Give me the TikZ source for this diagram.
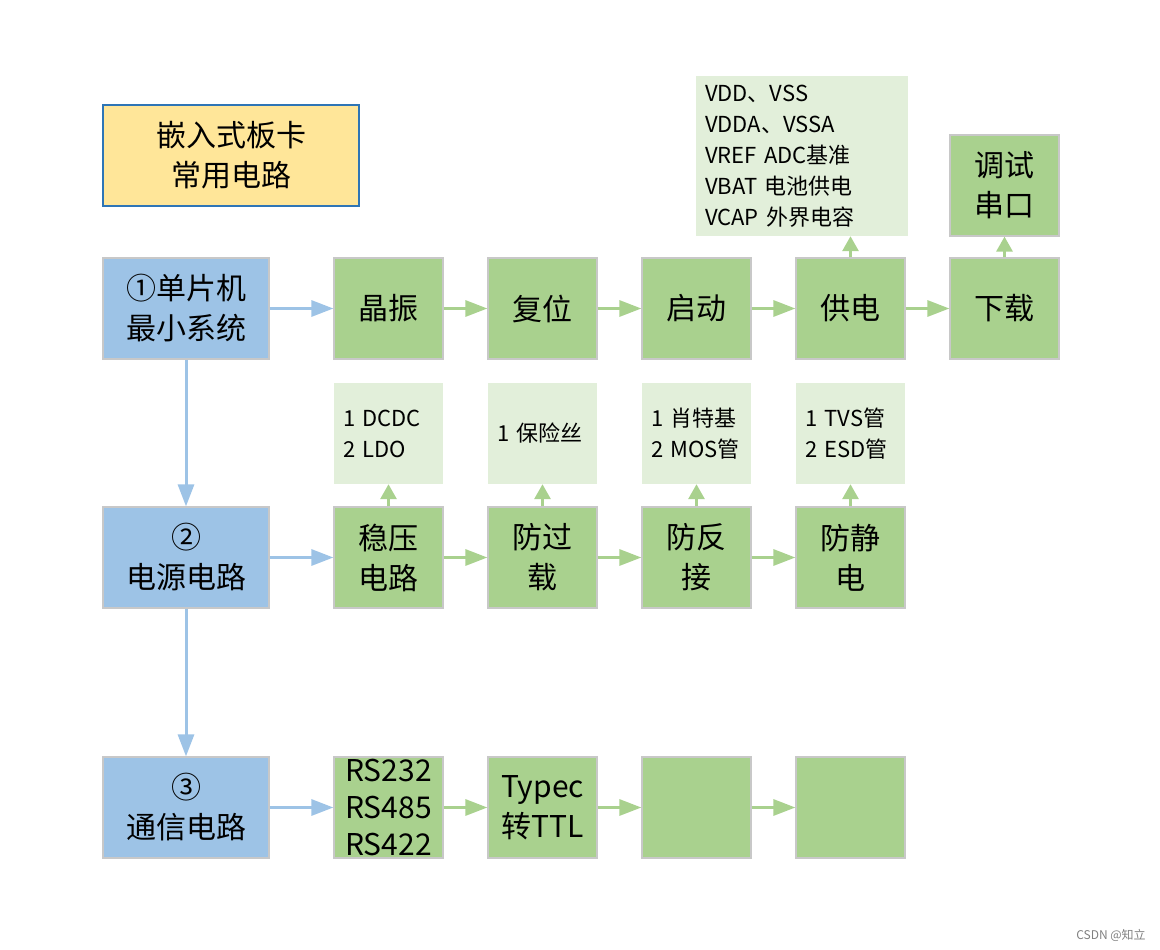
\documentclass[tikz,border=0pt]{standalone}
\usepackage{fontspec}
\setmainfont{Noto Sans CJK SC}
\usetikzlibrary{positioning, arrows.meta}
\definecolor{boxblue}{HTML}{9DC3E6}
\definecolor{boxgreen}{HTML}{A9D18E}
\definecolor{notegreen}{HTML}{E2EFDA}
\definecolor{titleyellow}{HTML}{FFE699}
\definecolor{titleline}{HTML}{2E75B6}
\definecolor{boxline}{HTML}{C8C8C8}
\newcommand{\bigfont}{\fontsize{30}{40}\selectfont}
\newcommand{\notefont}{\fontsize{22}{31}\selectfont}

\begin{document}
\begin{tikzpicture}[
      x = 1pt, y = -1pt,
      on grid,
      node distance = 154pt,
      font = \bigfont,
      block/.style = {draw = boxline, line width = 1.2pt, inner sep = 0pt,
        minimum width = 109pt, minimum height = 101pt, align = center},
      mainbox/.style = {block, fill = boxblue, minimum width = 166pt},
      stepbox/.style = {block, fill = boxgreen},
      notebox/.style = {fill = notegreen, inner xsep = 9pt, inner ysep = 0pt,
        text width = 91pt, minimum height = 101pt, align = left, font = \notefont},
      blueline/.style = {draw = boxblue, line width = 3pt,
        -{Triangle[length = 22pt, width = 16pt]}},
      greenline/.style = {draw = boxgreen, line width = 3pt,
        -{Triangle[length = 22pt, width = 16pt]}},
      upline/.style = {draw = boxgreen, line width = 3pt,
        -{Triangle[length = 15pt, width = 16pt]}}]

      \useasboundingbox (0,0) rectangle (1160,950);

      % title
      \node [block, fill = titleyellow, draw = titleline, minimum width = 256pt]
        (title) at (231,155.5) {嵌入式板卡\\常用电路};

      % left column
      \node [mainbox] (mcu) at (186,308.5) {①单片机\\最小系统};
      \node [mainbox] (power) at (186,557.5) {②\\电源电路};
      \node [mainbox] (comm) at (186,807.5) {③\\通信电路};

      % minimum system
      \node [stepbox] (xtal) at (388.5,308.5) {晶振};
      \node [stepbox, right = of xtal] (reset) {复位};
      \node [stepbox, right = of reset] (boot) {启动};
      \node [stepbox, right = of boot] (supply) {供电};
      \node [stepbox, right = of supply] (download) {下载};
      \node [stepbox, above = 123pt of download] (debug) {调试\\串口};
      \node [notebox, text width = 194pt, minimum height = 160pt]
        (supplynote) at (802,156) {VDD、VSS\\VDDA、VSSA\\VREF ADC基准\\VBAT 电池供电\\VCAP 外界电容};

      % power circuit
      \node [stepbox] (reg) at (388.5,557.5) {稳压\\电路};
      \node [stepbox, right = of reg] (fuse) {防过\\载};
      \node [stepbox, right = of fuse] (reverse) {防反\\接};
      \node [stepbox, right = of reverse] (esd) {防静\\电};
      \node [notebox, above = 124pt of reg] (regnote) {1 DCDC\\2 LDO};
      \node [notebox, above = 124pt of fuse] (fusenote) {1 保险丝};
      \node [notebox, above = 124pt of reverse] (reversenote) {1 肖特基\\2 MOS管};
      \node [notebox, above = 124pt of esd] (esdnote) {1 TVS管\\2 ESD管};

      % communication circuit
      \node [stepbox, font = \fontsize{30}{37}\selectfont] (rs) at (388.5,807.5) {RS232\\RS485\\RS422};
      \node [stepbox, right = of rs] (typec) {Typec\\转TTL};
      \node [stepbox, right = of typec] (commc) {};
      \node [stepbox, right = of commc] (commd) {};

      % connectors
      \draw [blueline] (mcu) -- (xtal);
      \draw [blueline] (power) -- (reg);
      \draw [blueline] (comm) -- (rs);
      \draw [blueline] (mcu) -- (power);
      \draw [blueline] (power) -- (comm);
      \draw [greenline] (xtal) -- (reset);
      \draw [greenline] (reset) -- (boot);
      \draw [greenline] (boot) -- (supply);
      \draw [greenline] (supply) -- (download);
      \draw [greenline] (reg) -- (fuse);
      \draw [greenline] (fuse) -- (reverse);
      \draw [greenline] (reverse) -- (esd);
      \draw [greenline] (rs) -- (typec);
      \draw [greenline] (typec) -- (commc);
      \draw [greenline] (commc) -- (commd);
      \draw [upline] (download) -- (debug);
      \draw [upline] (supply.north) -- (supply.north |- supplynote.south);
      \draw [upline] (reg) -- (regnote);
      \draw [upline] (fuse) -- (fusenote);
      \draw [upline] (reverse) -- (reversenote);
      \draw [upline] (esd) -- (esdnote);

      % watermark
      \node [text = gray, font = \fontsize{12}{14}\selectfont] (mark) at (1111,935) {CSDN @知立};
  \end{tikzpicture}
\end{document}
